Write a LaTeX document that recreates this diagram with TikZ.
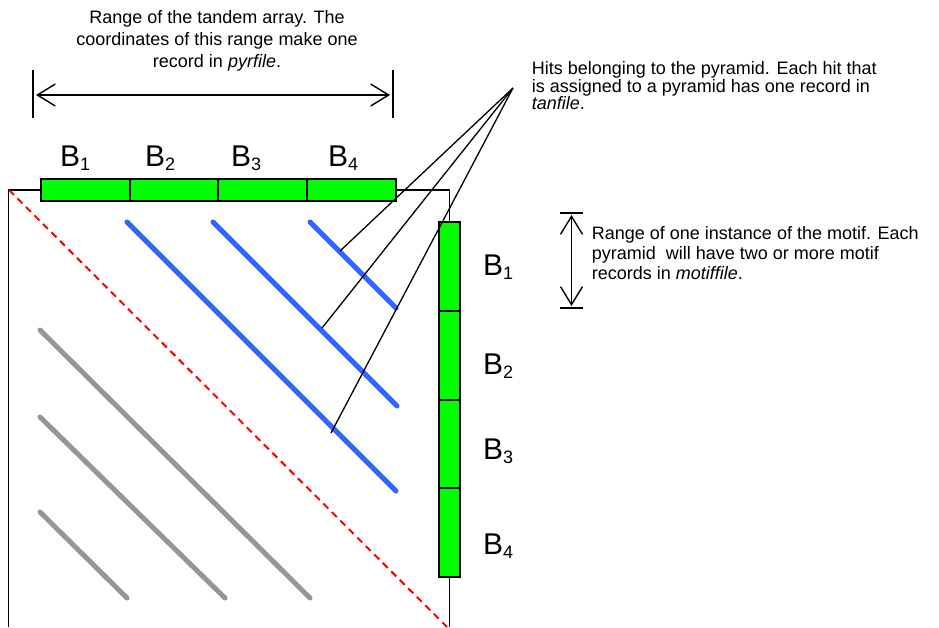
\documentclass[tikz,border=0pt]{standalone}
\usepackage{fontspec}
\setmainfont{Liberation Sans}
\usetikzlibrary{arrows.meta}
\definecolor{hitblue}{RGB}{51,102,255}
\definecolor{hitgray}{RGB}{150,150,150}
\definecolor{segfill}{RGB}{0,255,0}
\newcommand{\Bsub}[1]{B\raisebox{-4.5pt}{\fontsize{18}{18}\selectfont #1}}
\begin{document}
\begin{tikzpicture}[x=1pt,y=-1pt,
  frame/.style={line width=1.7pt,black},
  seg/.style={draw=black,line width=1.6pt,fill=segfill,inner sep=0pt,outer sep=0pt},
  hseg/.style={seg,minimum height=22pt},
  vseg/.style={seg,minimum width=21pt},
  diagdash/.style={red,line width=2pt,dash pattern=on 7pt off 5pt},
  blueline/.style={hitblue,line width=5pt,line cap=round},
  grayline/.style={hitgray,line width=5pt,line cap=round},
  callout/.style={black,line width=1.3pt},
  rangearrow/.style={line width=1.4pt,{Straight Barb[length=18pt,width=22pt]}-{Straight Barb[length=18pt,width=22pt]}},
  tick/.style={line width=1.7pt},
  txt/.style={font=\fontsize{18}{22}\selectfont,inner sep=0pt},
  blab/.style={font=\fontsize{30}{36}\selectfont,inner sep=0pt,anchor=base west}]
\useasboundingbox (0,0) rectangle (939,627);

% frame of the dot plot
\coordinate (ctl) at (8.5,190);
\coordinate (ctr) at (449.5,190);
\coordinate (cbl) at (8.5,627);
\coordinate (cbr) at (449.5,627);
\draw[frame] (cbl) -- (ctl) -- (ctr) -- (cbr);

% main diagonal
\coordinate (d0) at (9,190);
\coordinate (d1) at (447,627);
\draw[diagdash] (d0) -- (d1);

% gray hits
\coordinate (g1a) at (40,330); \coordinate (g1b) at (310,598);
\coordinate (g2a) at (40,417); \coordinate (g2b) at (225,598);
\coordinate (g3a) at (40,512); \coordinate (g3b) at (127,598);
\draw[grayline] (g1a) -- (g1b);
\draw[grayline] (g2a) -- (g2b);
\draw[grayline] (g3a) -- (g3b);

% blue hits (pyramid)
\coordinate (b1a) at (127,222); \coordinate (b1b) at (396,491);
\coordinate (b2a) at (213,222); \coordinate (b2b) at (397,406);
\coordinate (b3a) at (310,222); \coordinate (b3b) at (396,308);
\draw[blueline] (b1a) -- (b1b);
\draw[blueline] (b2a) -- (b2b);
\draw[blueline] (b3a) -- (b3b);

% top bar
\node[hseg,minimum width=89pt] (t1) at (85.5,190) {};
\node[hseg,minimum width=88pt] (t2) at (174,190) {};
\node[hseg,minimum width=89pt] (t3) at (262.5,190) {};
\node[hseg,minimum width=89pt] (t4) at (351.5,190) {};

% right bar
\node[vseg,minimum height=89pt] (r1) at (449.5,266.5) {};
\node[vseg,minimum height=89pt] (r2) at (449.5,355.5) {};
\node[vseg,minimum height=88pt] (r3) at (449.5,444) {};
\node[vseg,minimum height=89pt] (r4) at (449.5,532.5) {};

% labels of bars
\node[blab] (lt1) at (60,166) {\Bsub{1}};
\node[blab] (lt2) at (145,166) {\Bsub{2}};
\node[blab] (lt3) at (231,166) {\Bsub{3}};
\node[blab] (lt4) at (328,166) {\Bsub{4}};
\node[blab] (lr1) at (483,275) {\Bsub{1}};
\node[blab] (lr2) at (483,374) {\Bsub{2}};
\node[blab] (lr3) at (483,459) {\Bsub{3}};
\node[blab] (lr4) at (483,554) {\Bsub{4}};

% callout lines
\coordinate (hub) at (513,88);
\coordinate (h1) at (340,251);
\coordinate (h2) at (322,328);
\coordinate (h3) at (331,433);
\draw[callout] (hub) -- (h1);
\draw[callout] (hub) -- (h2);
\draw[callout] (hub) -- (h3);

% range of tandem array
\coordinate (ta) at (33,70); \coordinate (tb) at (33,118);
\coordinate (tc) at (393,70); \coordinate (td) at (393,118);
\draw[tick] (ta) -- (tb);
\draw[tick] (tc) -- (td);
\coordinate (a0) at (36,95); \coordinate (a1) at (390,95);
\draw[rangearrow] (a0) -- (a1);

% range of motif instance
\coordinate (ma) at (560,213); \coordinate (mb) at (583,213);
\coordinate (mc) at (560,308); \coordinate (md) at (583,308);
\draw[tick] (ma) -- (mb);
\draw[tick] (mc) -- (md);
\coordinate (m0) at (571.5,215); \coordinate (m1) at (571.5,306);
\draw[rangearrow] (m0) -- (m1);

% texts
\node[txt,align=center,anchor=north] (toptext) at (217,10.5)
  {Range of the tandem array. The\\coordinates of this range make one\\record in \textit{pyrfile}.};
\node[txt,align=left,anchor=north west,font=\fontsize{18}{17.5}\selectfont] (hittext) at (531.6,61.5)
  {Hits belonging to the pyramid. Each hit that\\is assigned to a pyramid has one record in\\\textit{tanfile}.};
\node[txt,align=left,anchor=north west,font=\fontsize{18}{20}\selectfont] (motiftext) at (591.7,226)
  {Range of one instance of the motif. Each\\pyramid\ \ will have two or more motif\\records in \textit{motiffile}.};
\end{tikzpicture}
\end{document}
